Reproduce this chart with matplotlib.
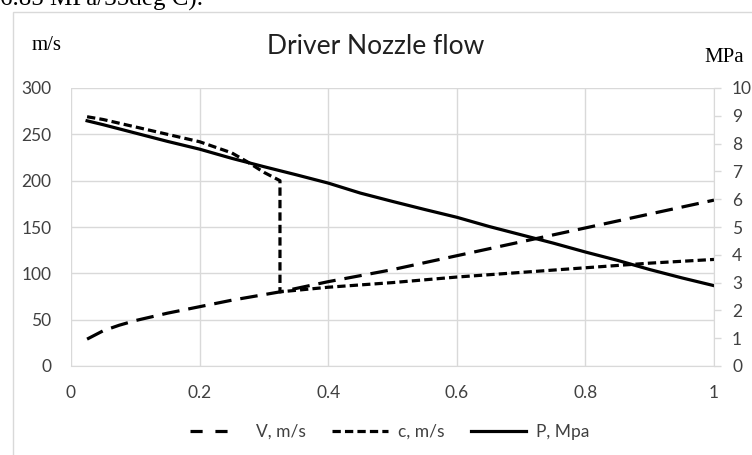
import matplotlib
matplotlib.use("Agg")
import matplotlib.pyplot as plt
from matplotlib.lines import Line2D
from matplotlib.patches import Rectangle

# nozzle position (fraction of length)
x_v = [0.025, 0.05, 0.075, 0.1, 0.15, 0.2, 0.25, 0.3, 0.325, 0.4, 0.5, 0.6, 0.7, 0.8, 0.9, 1.0]
v_ms = [29, 38, 44, 49, 57, 64, 71, 77, 80, 91, 104, 119, 134, 149, 164, 179]

x_c = [0.025, 0.05, 0.1, 0.15, 0.2, 0.25, 0.275, 0.3, 0.325, 0.325, 0.4, 0.5, 0.6, 0.7, 0.8, 0.9, 1.0]
c_ms = [269, 266, 258, 250, 242, 230, 220, 209, 200, 80, 85, 90, 96, 101, 106, 111, 115]

x_p = [0.025, 0.05, 0.1, 0.15, 0.2, 0.25, 0.3, 0.35, 0.4, 0.45, 0.5, 0.55, 0.6, 0.65, 0.7, 0.75, 0.8, 0.85, 0.9, 0.95, 1.0]
p_mpa = [8.82, 8.68, 8.38, 8.08, 7.80, 7.47, 7.17, 6.88, 6.58, 6.22, 5.92, 5.63, 5.35, 5.02, 4.72, 4.42, 4.10, 3.80, 3.47, 3.17, 2.89]

xticks = [0, 0.2, 0.4, 0.6, 0.8, 1]
xticklabels = ["0", "0.2", "0.4", "0.6", "0.8", "1"]

SANS = "Lato"
SERIF = "Liberation Serif"
GRID = "#d9d9d9"

W, H = 752, 455
fig = plt.figure(figsize=(W / 100, H / 100), dpi=100)

# the chart frame and the clipped line of document text above it
fig.patches.append(Rectangle((13 / W, -0.01), 1.0, 1 - 12 / H + 0.01, transform=fig.transFigure,
                             fill=False, edgecolor=GRID, linewidth=1))
fig.text(0.0, 1 - 6 / H, "6.85 MPa/35deg C).", family=SERIF, fontsize=18, va="baseline", ha="left")

ax = fig.add_axes([71 / W, 1 - 366 / H, (714 - 71) / W, (366 - 88) / H])

ax.plot(x_v, v_ms, color="black", lw=2.3, dashes=(5.5, 2.8))
ax.plot(x_c, c_ms, color="black", lw=2.3, dashes=(2.6, 1.3))

ax.set_xlim(0, 1)
ax.set_ylim(0, 300)
ax.set_xticks(xticks)
ax.set_xticklabels(xticklabels)
ax.set_yticks(range(0, 301, 50))
ax.grid(True, color=GRID, linewidth=1)
ax.set_axisbelow(True)
for s in ["top", "right", "left"]:
    ax.spines[s].set_visible(False)
ax.spines["bottom"].set_color(GRID)
ax.tick_params(axis="both", length=0, labelsize=12.5, colors="#404040", labelfontfamily=SANS)
ax.tick_params(axis="x", pad=14)
ax.tick_params(axis="y", pad=14)

ax2 = ax.twinx()
ax2.plot(x_p, p_mpa, color="black", lw=2.3)
ax2.set_ylim(0, 10)
ax2.set_yticks(range(0, 11))
for s in ["top", "left", "bottom"]:
    ax2.spines[s].set_visible(False)
ax2.spines["right"].set_color(GRID)
ax2.tick_params(axis="y", length=5, width=1, color=GRID, labelsize=12.5, colors="#404040",
                labelfontfamily=SANS, pad=8)

fig.text(376 / W, 1 - 46 / H, "Driver Nozzle flow", family=SANS, fontsize=19,
         ha="center", va="center", color="#202020")
fig.text(47 / W, 1 - 45 / H, "m/s", family=SERIF, fontsize=15, ha="center", va="center")
fig.text(724 / W, 1 - 58 / H, "MPa", family=SERIF, fontsize=15, ha="center", va="center")

# legend samples, drawn the way the spreadsheet shows them
handles = [
    Line2D([], [], color="black", lw=2.3, dashes=(3.8, 4.0, 3.8, 20)),
    Line2D([], [], color="black", lw=2.3, dashes=(2.6, 1.3)),
    Line2D([], [], color="black", lw=2.3),
]
labels = ["V, m/s", "c, m/s", "P, Mpa"]
fig.legend(handles, labels, loc="center", bbox_to_anchor=(390 / W, 1 - 432 / H), ncol=3,
           frameon=False, prop={"family": SANS, "size": 12.5}, handlelength=3.2,
           columnspacing=1.5, handletextpad=0.6, labelcolor="#404040")

fig.savefig("out.png", dpi=100)
